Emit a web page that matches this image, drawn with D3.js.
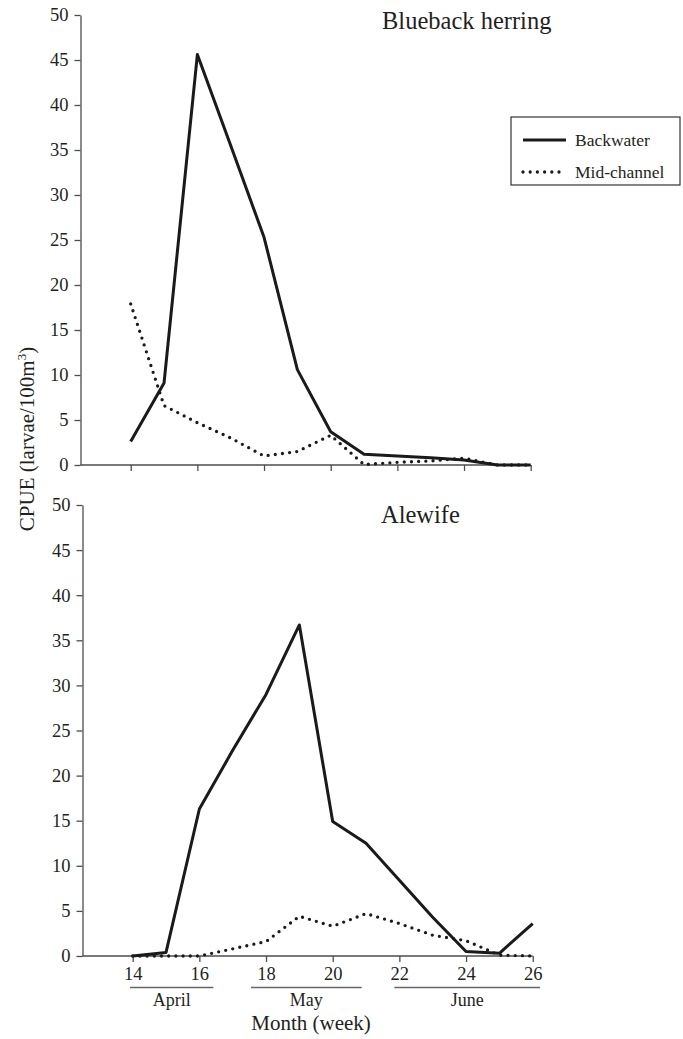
<!DOCTYPE html>
<html>
<head>
<meta charset="utf-8">
<script src="https://cdn.jsdelivr.net/npm/d3@7"></script>
<style>
  body { margin: 0; background: #fff; }
  svg text { font-family: 'Liberation Serif', 'Times New Roman', serif; fill: #231f20; }
</style>
</head>
<body>
<svg id="chart" width="683" height="1039"></svg>
<script>
// weeks sampled
var weeks = [14, 15, 16, 17, 18, 19, 20, 21, 22, 23, 24, 25, 26]

// Blueback herring CPUE (larvae/100m3)
var bluebackBackwater = [2.6, 9.1, 45.6, 35.5, 25.3, 10.6, 3.7, 1.2, 1.0, 0.8, 0.55, 0, 0]
var bluebackMidChannel = [17.9, 6.6, 4.7, 3.0, 1.0, 1.5, 3.3, 0.05, 0.3, 0.45, 0.75, 0, 0]

// Alewife CPUE (larvae/100m3)
var alewifeBackwater = [0, 0.4, 16.3, 22.8, 29.0, 36.7, 14.9, 12.5, 8.4, 4.3, 0.5, 0.3, 3.6]
var alewifeMidChannel = [0, 0, 0, 0.8, 1.6, 4.4, 3.3, 4.7, 3.6, 2.3, 1.7, 0.1, 0]

var yTicks = [0, 5, 10, 15, 20, 25, 30, 35, 40, 45, 50]
var xTicks = [14, 16, 18, 20, 22, 24, 26]

// month spans, in week units
var months = ['April', 'May', 'June']
var monthStart = [13.92, 17.55, 21.85]
var monthEnd = [16.42, 20.87, 26.22]

var seriesNames = ['Backwater', 'Mid-channel']

var svg = d3.select('#chart')
var ink = '#1a1a1a'
var axisColor = '#4d4d4d'
var serif = "'Liberation Serif', 'Times New Roman', serif"

function styleFor (sel, dotted) {
  sel.attr('fill', 'none')
    .attr('stroke', ink)
    .attr('stroke-linejoin', 'round')
  if (dotted) {
    sel.attr('stroke-width', 3.3)
      .attr('stroke-linecap', 'round')
      .attr('stroke-dasharray', '0 7.2')
  } else {
    sel.attr('stroke-width', 3)
      .attr('stroke-linecap', 'butt')
  }
  return sel
}

function styleAxis (axisG) {
  axisG.attr('font-family', serif).attr('font-size', 18.5)
  axisG.selectAll('.tick line').attr('stroke', axisColor).attr('stroke-width', 1.3)
  axisG.selectAll('.tick text').attr('fill', '#231f20')
}

function drawPanel (opts) {
  var x = d3.scaleLinear().domain([14, 26]).range([opts.x14, opts.x14 + 400])
  var y = d3.scaleLinear().domain([0, 50]).range([opts.y0, opts.y50])
  var g = svg.append('g')

  // y axis
  var yAxis = g.append('g')
    .attr('transform', 'translate(' + opts.axisX + ',0)')
    .call(d3.axisLeft(y).tickValues(yTicks).tickSize(6).tickSizeOuter(0).tickPadding(6))
  yAxis.select('.domain').attr('stroke', axisColor).attr('stroke-width', 1.3)
  styleAxis(yAxis)

  // x axis
  var xAxis = g.append('g')
    .attr('transform', 'translate(0,' + opts.y0 + ')')
    .call(d3.axisBottom(x).tickValues(xTicks).tickSize(6).tickSizeOuter(0).tickPadding(5)
      .tickFormat(opts.xLabels ? d3.format('d') : ''))
  xAxis.select('.domain').remove()
  xAxis.append('line')
    .attr('x1', opts.axisX).attr('x2', x(26))
    .attr('stroke', axisColor).attr('stroke-width', 1.3)
  styleAxis(xAxis)

  var line = d3.line()
    .x(function (d, i) { return x(weeks[i]) })
    .y(function (d) { return y(d) })

  styleFor(g.append('path').datum(opts.mid).attr('d', line), true)
  styleFor(g.append('path').datum(opts.back).attr('d', line), false)

  g.append('text')
    .attr('x', opts.titleX)
    .attr('y', opts.titleY)
    .style('font-size', '24.5px')
    .text(opts.title)

  return { x: x, y: y }
}

drawPanel({
  title: 'Blueback herring', titleX: 382, titleY: 29,
  axisX: 80.5, x14: 130.7, y0: 465, y50: 15,
  back: bluebackBackwater, mid: bluebackMidChannel, xLabels: false
})

var bottom = drawPanel({
  title: 'Alewife', titleX: 381, titleY: 523,
  axisX: 82.5, x14: 132.7, y0: 956, y50: 505,
  back: alewifeBackwater, mid: alewifeMidChannel, xLabels: true
})

// month underlines + labels
months.forEach(function (m, i) {
  var x1 = bottom.x(monthStart[i])
  var x2 = bottom.x(monthEnd[i])
  svg.append('line')
    .attr('x1', x1).attr('x2', x2)
    .attr('y1', 987.5).attr('y2', 987.5)
    .attr('stroke', '#666').attr('stroke-width', 1.4)
  svg.append('text')
    .attr('x', (x1 + x2) / 2)
    .attr('y', 1006)
    .attr('text-anchor', 'middle')
    .style('font-size', '18px')
    .text(m)
})

// axis titles
svg.append('text')
  .attr('x', 311)
  .attr('y', 1030)
  .attr('text-anchor', 'middle')
  .style('font-size', '21px')
  .text('Month (week)')

var yLab = svg.append('text')
  .attr('transform', 'translate(34,439) rotate(-90)')
  .attr('text-anchor', 'middle')
  .style('font-size', '21px')
yLab.append('tspan').text('CPUE (larvae/100m')
yLab.append('tspan').attr('dy', -8).style('font-size', '13px').text('3')
yLab.append('tspan').attr('dy', 8).text(')')

// legend
var legend = svg.append('g').attr('transform', 'translate(511,117)')
legend.append('rect')
  .attr('width', 169).attr('height', 68)
  .attr('fill', '#fff').attr('stroke', '#333').attr('stroke-width', 1.2)
seriesNames.forEach(function (name, i) {
  var ly = 23 + i * 32
  styleFor(legend.append('path').attr('d', 'M12,' + ly + 'H55'), i === 1)
  legend.append('text')
    .attr('x', 64)
    .attr('y', ly + 6)
    .style('font-size', '17.5px')
    .text(name)
})
</script>
</body>
</html>
